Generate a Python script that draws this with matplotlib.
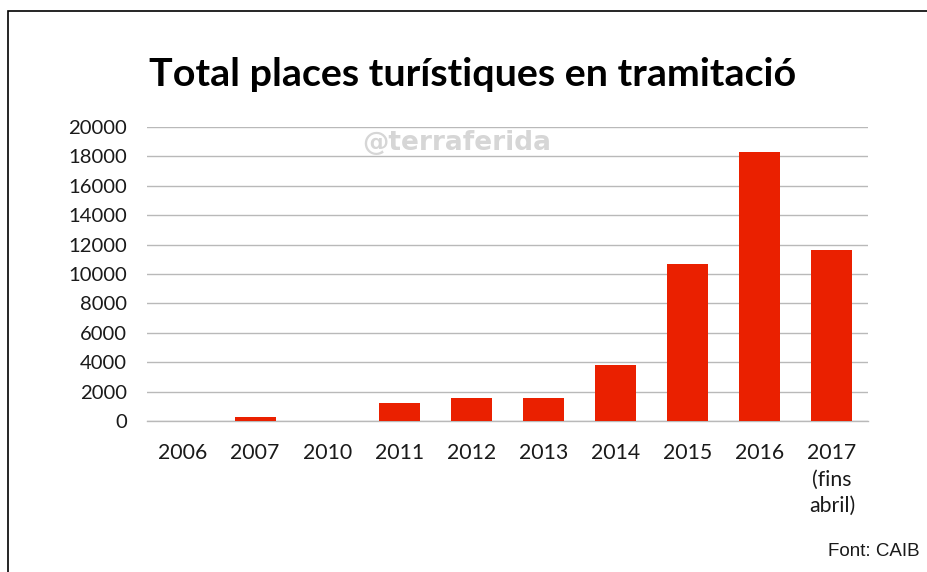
import matplotlib

matplotlib.use("Agg")
import matplotlib.pyplot as plt
from matplotlib.patches import Rectangle

years = ["2006", "2007", "2010", "2011", "2012", "2013", "2014", "2015", "2016", "2017\n(fins\nabril)"]
places = [0, 300, 0, 1250, 1550, 1550, 3800, 10700, 18300, 11650]
yticks = list(range(0, 20001, 2000))

fig = plt.figure(figsize=(9.27, 5.72), dpi=100)
ax = fig.add_axes([147 / 927, 1 - 421 / 572, (868 - 147) / 927, (421 - 127) / 572])

x = range(len(years))
ax.bar(x, places, width=0.57, color="#ea2000", zorder=3)

ax.set_ylim(0, 20000)
ax.set_xlim(-0.5, len(years) - 0.5)
ax.set_yticks(yticks)
ax.set_yticklabels([str(v) for v in yticks], fontfamily="Lato", fontsize=14.6, color="#1a1a1a")
ax.set_xticks(list(x))
ax.set_xticklabels(years, fontfamily="Lato", fontsize=15.3, color="#1a1a1a", linespacing=1.4, va="top")
ax.tick_params(length=0)
ax.tick_params(axis="x", pad=16)
ax.tick_params(axis="y", pad=14.5)

ax.grid(axis="y", color="#b9b9b9", linewidth=1.0, zorder=0)
for s in ["top", "right", "left"]:
    ax.spines[s].set_visible(False)
ax.spines["bottom"].set_color("#b9b9b9")
ax.spines["bottom"].set_linewidth(1.0)

# title and watermark
fig.text(473 / 927, 1 - 75 / 572, "Total places turístiques en tramitació",
         ha="center", va="center", fontfamily="Lato", fontweight="bold", fontsize=28.4)
fig.text(457 / 927, 1 - 143 / 572, "@terraferida", ha="center", va="center",
         fontfamily="DejaVu Sans", fontweight="bold", fontsize=19, color="#d6d6d6", zorder=5)
fig.text(920 / 927, 1 - 552 / 572, "Font: CAIB", ha="right", va="center",
         fontfamily="Liberation Sans", fontsize=13.5, color="#1a1a1a")

# outer frame
fig.patches.append(Rectangle((8 / 927, -0.1), 1.1, 1 - 11 / 572 + 0.1, transform=fig.transFigure,
                             fill=False, edgecolor="black", linewidth=1.2))

fig.savefig("out.png", dpi=100)
